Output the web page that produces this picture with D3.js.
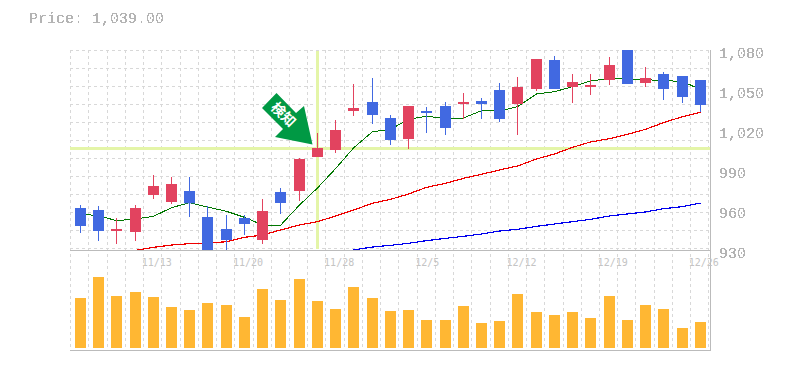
<!DOCTYPE html>
<html>
<head>
  <meta charset="UTF-8">
  <title>Price chart</title>
  <script src="https://d3js.org/d3.v7.min.js"></script>
  <style>
    html, body { margin: 0; padding: 0; background: #fff; }
    svg { display: block; }
    .label { font-family: "Liberation Mono", monospace; fill: #b4b4b4; }
    .date { font-family: "DejaVu Sans Mono", monospace; fill: #c4c4c4; }
    .grid line { stroke: #d8d8d8; stroke-width: 1; stroke-dasharray: 3 3; shape-rendering: crispEdges; }
    .frame { stroke: #bbb; stroke-width: 1; shape-rendering: crispEdges; }
    .ma { fill: none; shape-rendering: crispEdges; }
  </style>
</head>
<body>
<div id="chart"></div>
<script>

const priceText = "Price: 1,039.00";
const priceTicks = [1080, 1050, 1020, 990, 960, 930];
const dateLabels = ["11/13", "11/20", "11/28", "12/5", "12/12", "12/19", "12/26"];
const dateIndex = [4, 9, 14, 19, 24, 29, 34];

const opens = [961.5, 960, 944.25, 943.5, 971.25, 966, 974.25, 954.75, 945.75, 954, 937.5, 973.5, 974.25, 999.75, 1005, 1034.25, 1041, 1029, 1013.25, 1034.25, 1038, 1039.5, 1041.75, 1050, 1039.5, 1050.75, 1072.5, 1052.25, 1052.25, 1057.5, 1085, 1055.25, 1062, 1060.5, 1057.5];
const closes = [948, 944.25, 945.75, 961.5, 978, 979.5, 965, 925, 937.5, 949.5, 959.25, 965.25, 998.25, 1006.5, 1020, 1036.5, 1031.25, 1012.5, 1038, 1032.75, 1021.5, 1041, 1039.5, 1028.25, 1052.25, 1073.25, 1050.75, 1056, 1053.75, 1068.75, 1054.5, 1059, 1050.75, 1044.75, 1038.75];
const highs = [963.75, 963, 954, 963.75, 986.25, 984.75, 984.75, 963, 956.25, 956.25, 968.25, 976.5, 999, 1017.75, 1027.5, 1054.5, 1059, 1031.25, 1038, 1037.25, 1041, 1047.75, 1044, 1055.25, 1059.75, 1073.25, 1075.5, 1062, 1062, 1074.75, 1086, 1067.25, 1063.5, 1060.5, 1057.5];
const lows = [942.75, 936.75, 934.5, 936.75, 968.25, 964.5, 954.75, 922, 929, 941.25, 934.5, 957, 966.75, 999.75, 1002.75, 1030.5, 1024.5, 1008.75, 1005.75, 1017.75, 1016.25, 1028.25, 1028.25, 1026, 1016.25, 1049.25, 1050.75, 1040.25, 1046.25, 1053.75, 1054.5, 1052.25, 1042.5, 1040.25, 1033.5];
const volumes = [50, 71, 52, 56, 51, 41, 38, 45, 43, 31, 59, 48, 69, 47, 39, 61, 50, 37, 38, 28, 28, 42, 25, 27, 54, 36, 33, 36, 30, 52, 28, 43, 39, 20, 26];

const maShort = [957, 955.75, 952, 953.25, 955.25, 961.75, 965.5, 962.25, 959, 954.5, 948.75, 948.5, 963.75, 976.5, 991, 1006.5, 1018.75, 1020.5, 1028, 1030.25, 1028.75, 1029, 1034.5, 1034.25, 1037.5, 1047, 1048.75, 1052.5, 1056.75, 1058.75, 1058, 1057.75, 1057, 1056.5, 1050.25];
const maMid = [null, null, null, 929.75, 932, 933.75, 934.75, 935, 936.25, 939.5, 941.25, 945, 948.75, 951.25, 955.5, 960, 965, 968, 972, 977, 980, 983.75, 986.75, 990, 993, 998.25, 1002, 1007, 1011, 1013.5, 1016.75, 1020.5, 1025.5, 1030, 1033.25];
const maLong = [null, null, null, null, null, null, null, null, null, null, null, null, null, null, null, 930, 932.25, 933.5, 935, 937, 938.75, 940.25, 942, 944.25, 945.5, 947.75, 949.5, 951.25, 953, 955.5, 957, 958.5, 961, 962.5, 965.25];

// cursor position, in data terms
const crossIndex = 13;
const crossPrice = 1006.5;

const width = 785, height = 370;
const red = "#e2435f", blue = "#4169e1";

const svg = d3.select("#chart").append("svg")
    .attr("width", width)
    .attr("height", height);

// hard edged text, the source has no antialiasing
const filter = svg.append("defs").append("filter")
    .attr("id", "hard")
    .attr("x", "0").attr("y", "0").attr("width", "1").attr("height", "1");
filter.append("feComponentTransfer").append("feFuncA")
    .attr("type", "discrete")
    .attr("tableValues", "0 0 1 1 1");

svg.append("defs").append("clipPath").attr("id", "plot")
    .append("rect").attr("x", 70).attr("y", 50).attr("width", 640).attr("height", 200);

const x = d3.scaleBand().domain(d3.range(opens.length)).range([70.7, 708.9]);
const y = d3.scaleLinear().domain([930, 1080]).range([250, 50]);
const v = d3.scaleLinear().domain([0, 75]).range([348, 273]);

const cx = i => Math.round(x(i) + x.bandwidth() / 2);

// grid
const grid = svg.append("g").attr("class", "grid");
grid.selectAll(".gy").data(d3.range(50.5, 250, 18)).enter().append("line")
    .attr("x1", 70).attr("x2", 710)
    .attr("y1", d => d).attr("y2", d => d);
grid.selectAll(".gx").data(d3.range(opens.length + 1)).enter().append("line")
    .attr("x1", d => Math.floor(70.7 + d * x.step()) + 0.5)
    .attr("x2", d => Math.floor(70.7 + d * x.step()) + 0.5)
    .attr("y1", 50).attr("y2", 350);

// crosshair
svg.append("rect")
    .attr("x", 70).attr("y", Math.round(y(crossPrice)) - 1)
    .attr("width", 640).attr("height", 3).attr("fill", "#e4f5a8");
svg.append("rect")
    .attr("x", cx(crossIndex) - 1).attr("y", 51)
    .attr("width", 3).attr("height", 198).attr("fill", "#e4f5a8");

const plot = svg.append("g").attr("clip-path", "url(#plot)");

// moving averages
function drawLine(values, color, w) {
    const line = d3.line()
        .defined(d => d !== null)
        .x((d, i) => cx(i) + 0.5)
        .y(d => y(d));
    plot.append("path")
        .attr("class", "ma")
        .attr("d", line(values))
        .attr("stroke", color)
        .attr("stroke-width", w);
}
drawLine(maLong, "#0000ee", 1.2);
drawLine(maMid, "#ee0000", 1.2);
drawLine(maShort, "#007700", 1);

// candles
const isUp = i => closes[i] >= opens[i];
plot.selectAll(".wick").data(d3.range(opens.length)).enter().append("rect")
    .attr("x", i => cx(i))
    .attr("y", i => y(highs[i]))
    .attr("width", 1)
    .attr("height", i => y(lows[i]) - y(highs[i]))
    .attr("fill", i => isUp(i) ? red : blue);
plot.selectAll(".body").data(d3.range(opens.length)).enter().append("rect")
    .attr("x", i => cx(i) - 5)
    .attr("y", i => y(Math.max(opens[i], closes[i])))
    .attr("width", 11)
    .attr("height", i => Math.abs(y(opens[i]) - y(closes[i])))
    .attr("fill", i => isUp(i) ? red : blue);

// volume
svg.selectAll(".vol").data(volumes).enter().append("rect")
    .attr("x", (d, i) => cx(i) - 5)
    .attr("y", d => v(d))
    .attr("width", 11)
    .attr("height", d => v(0) - v(d))
    .attr("fill", "#ffb733");

// frame
svg.append("line").attr("class", "frame").attr("x1", 70).attr("x2", 711).attr("y1", 250.5).attr("y2", 250.5);
svg.append("line").attr("class", "frame").attr("x1", 70).attr("x2", 711).attr("y1", 350.5).attr("y2", 350.5);
svg.append("line").attr("class", "frame").attr("x1", 710.5).attr("x2", 710.5).attr("y1", 50).attr("y2", 351);

// axes
const yAxis = svg.append("g")
    .attr("transform", "translate(710,0)")
    .call(d3.axisRight(y).tickValues(priceTicks).tickFormat(d3.format(",")).tickSize(0).tickPadding(0));
yAxis.select(".domain").remove();
yAxis.selectAll("text")
    .attr("class", "label")
    .attr("x", 9)
    .attr("y", 7)
    .attr("dy", 0)
    .attr("filter", "url(#hard)")
    .style("font-size", "15px");

const xAxis = svg.append("g")
    .attr("transform", "translate(0,250)")
    .call(d3.axisBottom(x).tickValues(dateIndex).tickFormat((d, i) => dateLabels[i]).tickSize(0));
xAxis.select(".domain").remove();
xAxis.selectAll("text")
    .attr("class", "date")
    .attr("x", -11)
    .attr("y", 16)
    .attr("dy", 0)
    .attr("text-anchor", "start")
    .style("font-size", "10px");

svg.append("text")
    .attr("class", "label")
    .attr("x", 29)
    .attr("y", 23)
    .attr("filter", "url(#hard)")
    .style("font-size", "15px")
    .text(priceText);

// signal arrow
svg.append("polygon")
    .attr("points", "262,108 276.5,93 296,113 304,106 312.5,144.5 275,137 283,129")
    .attr("fill", "#009944");
svg.append("g")
    .attr("transform", "translate(283.5,114.5) rotate(45)")
    .append("text")
    .attr("text-anchor", "middle")
    .attr("y", 5)
    .attr("fill", "#fff")
    .attr("font-family", "'Noto Sans CJK JP'")
    .attr("font-weight", "bold")
    .attr("font-size", 14)
    .text("検知");

</script>
</body>
</html>
